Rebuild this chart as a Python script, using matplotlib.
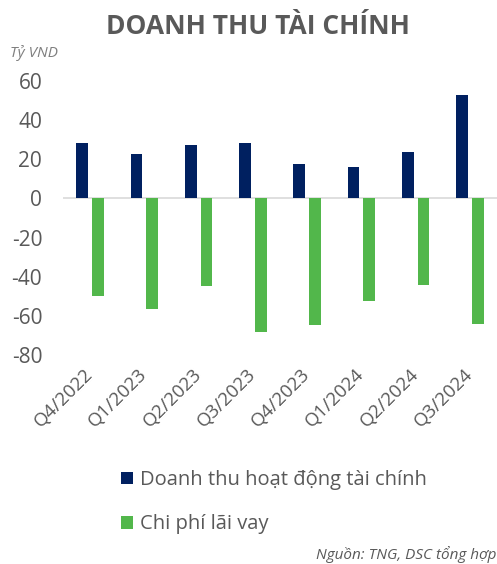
import matplotlib

matplotlib.use("Agg")

import matplotlib.pyplot as plt
import matplotlib.patches as mpatches
import numpy as np

plt.rcParams["font.family"] = ["Open Sans", "DejaVu Sans"]

QUARTERS = ["Q4/2022", "Q1/2023", "Q2/2023", "Q3/2023",
            "Q4/2023", "Q1/2024", "Q2/2024", "Q3/2024"]
REVENUE = [28.5, 22.7, 27.2, 28.5, 17.6, 15.9, 23.6, 52.6]
INTEREST = [-50.1, -56.4, -44.8, -68.4, -64.6, -52.5, -44.3, -64.4]
Y_TICKS = [60, 40, 20, 0, -20, -40, -60, -80]

NAVY = "#002060"
GREEN = "#52B74B"
TEXT = "#595959"

W, H = 497, 564
fig = plt.figure(figsize=(W / 100, H / 100), dpi=100)
ax = fig.add_axes([63 / W, (H - 355) / H, (W - 63) / W, (355 - 81) / H])

x = np.arange(len(QUARTERS))
bw = 0.22
ax.bar(x - 0.145, REVENUE, width=bw, color=NAVY, zorder=2)
ax.bar(x + 0.145, INTEREST, width=bw, color=GREEN, zorder=2)
ax.axhline(0, color="#D9D9D9", linewidth=1.2, zorder=1)

ax.set_xlim(-0.5, len(QUARTERS) - 0.5)
ax.set_ylim(-80, 60)
ax.set_yticks(Y_TICKS)
ax.set_yticklabels([str(v) for v in Y_TICKS], fontsize=15, color=TEXT)
ax.set_xticks(x)
ax.set_xticklabels(QUARTERS, rotation=45, ha="right", va="center",
                   rotation_mode="anchor", fontsize=13.5, color=TEXT)
ax.tick_params(axis="both", length=0)
ax.tick_params(axis="x", pad=12)
ax.tick_params(axis="y", pad=15)
for s in ax.spines.values():
    s.set_visible(False)

fig.text(258 / W, 1 - 26 / H, "DOANH THU TÀI CHÍNH", ha="center", va="center",
         fontsize=19, fontweight="bold", color=TEXT)
fig.text(10 / W, 1 - 53 / H, "Tỷ VND", ha="left", va="center",
         fontsize=11, style="italic", color="#7F7F7F")

handles = [
    mpatches.Patch(facecolor=NAVY, label="Doanh thu hoạt động tài chính"),
    mpatches.Patch(facecolor=GREEN, label="Chi phí lãi vay"),
]
fig.legend(handles=handles, loc="upper left", bbox_to_anchor=(103 / W, 1 - 452 / H),
           frameon=False, fontsize=14.5, labelcolor=TEXT, handlelength=0.6,
           handleheight=0.6, handletextpad=0.35, labelspacing=1.2)

fig.text(496 / W, 1 - 555 / H, "Nguồn: TNG, DSC tổng hợp", ha="right", va="center",
         fontsize=11, style="italic", color=TEXT)

fig.savefig("out.png", dpi=100)
